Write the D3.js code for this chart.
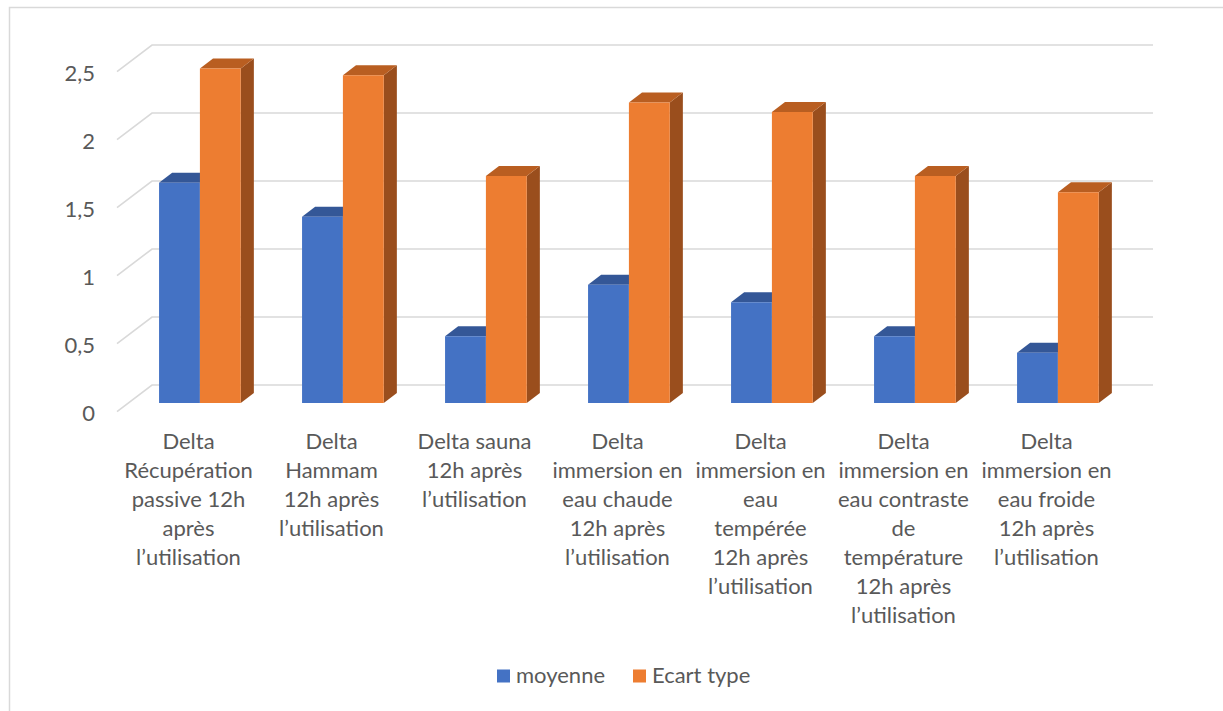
<!DOCTYPE html>
<html lang="fr">
<head>
<meta charset="utf-8">
<title>Moyenne et écart type</title>
<script src="https://cdn.jsdelivr.net/npm/d3@7"></script>
<style>
  html, body { margin: 0; padding: 0; background: #ffffff; }
  svg { display: block; font-family: Lato, "Open Sans", sans-serif; }
</style>
</head>
<body>
<svg id="chart" width="1223" height="711"></svg>
<script>
// Category labels (line breaks as in the axis)
const categories = [
  "Delta\nRécupération\npassive 12h\naprès\nl’utilisation",
  "Delta\nHammam\n12h après\nl’utilisation",
  "Delta sauna\n12h après\nl’utilisation",
  "Delta\nimmersion en\neau chaude\n12h après\nl’utilisation",
  "Delta\nimmersion en\neau\ntempérée\n12h après\nl’utilisation",
  "Delta\nimmersion en\neau contraste\nde\ntempérature\n12h après\nl’utilisation",
  "Delta\nimmersion en\neau froide\n12h après\nl’utilisation"
];
const moyenne   = [1.62, 1.37, 0.49, 0.87, 0.74, 0.49, 0.37];
const ecartType = [2.46, 2.41, 1.67, 2.21, 2.14, 1.67, 1.55];
const seriesNames = ["moyenne", "Ecart type"];
const yTickValues = [0, 0.5, 1, 1.5, 2, 2.5];

// Face colours per series: front, top, side
const palette = [
  { front: "#4472C4", top: "#345797", side: "#2F4F8A" },
  { front: "#ED7D31", top: "#B95E21", side: "#9A4E1D" }
];

const svg = d3.select("#chart");
const fr = d3.formatLocale({ decimal: ",", thousands: " ", grouping: [3], currency: ["", " €"] });
const fmt = fr.format("~g");

// Oblique 3D frame: front floor edge, depth offset to the back wall
const Y0 = 411.7, DX = 35, DY = 26.7;
const x = d3.scaleBand().domain(d3.range(categories.length)).range([117, 1118]);
const xs = d3.scaleBand().domain([0, 1]).range([0, x.bandwidth()]).paddingInner(0).paddingOuter(0.75);
const y = d3.scaleLinear().domain([0, 2.5]).range([0, 340]);
const P = (px, v, z) => [px + z * DX, Y0 - y(v) - z * DY];
const Z0 = 0.326, Z1 = 0.70;

// Chart border
svg.append("rect")
  .attr("x", 9.5).attr("y", 7.5).attr("width", 1300).attr("height", 800)
  .attr("fill", "none").attr("stroke", "#d9d9d9").attr("stroke-width", 1.5);

// Gridlines: side wall diagonal + back wall horizontal
const grid = svg.append("g").attr("stroke", "#d9d9d9").attr("stroke-width", 1.6).attr("fill", "none");
yTickValues.forEach(v => {
  const a = P(117, v, 0), b = P(117, v, 1), c = P(1118, v, 1);
  grid.append("path").attr("d", `M${a[0]},${a[1]}L${b[0]},${b[1]}L${c[0]},${c[1]}`);
});

// Y tick labels
svg.append("g").selectAll("text").data(yTickValues).join("text")
  .attr("x", 95).attr("y", d => P(117, d, 0)[1])
  .attr("dy", "0.4em").attr("text-anchor", "end")
  .attr("font-size", 22).attr("fill", "#595959")
  .text(d => fmt(d));

// Bars
const poly = pts => "M" + pts.map(p => p.join(",")).join("L") + "Z";
const bars = svg.append("g");
categories.forEach((c, i) => {
  [moyenne[i], ecartType[i]].forEach((v, s) => {
    const xl = x(i) + xs(s), xr = xl + xs.bandwidth();
    const col = palette[s];
    // right side
    bars.append("path").attr("fill", col.side)
      .attr("d", poly([P(xr, 0, Z0), P(xr, v, Z0), P(xr, v, Z1), P(xr, 0, Z1)]));
    // top
    bars.append("path").attr("fill", col.top)
      .attr("d", poly([P(xl, v, Z0), P(xr, v, Z0), P(xr, v, Z1), P(xl, v, Z1)]));
    // front
    bars.append("path").attr("fill", col.front)
      .attr("d", poly([P(xl, 0, Z0), P(xr, 0, Z0), P(xr, v, Z0), P(xl, v, Z0)]));
  });
});

// Category labels
const labels = svg.append("g").attr("font-size", 22).attr("fill", "#595959").attr("text-anchor", "middle");
categories.forEach((c, i) => {
  const cx = x(i) + x.bandwidth() / 2;
  const t = labels.append("text").attr("x", cx).attr("y", 449.3);
  c.split("\n").forEach((line, k) => {
    t.append("tspan").attr("x", cx).attr("y", 449.3 + k * 29).text(line);
  });
});

// Legend
const legend = svg.append("g").attr("font-size", 22).attr("fill", "#595959");
const legendX = [497, 633];
seriesNames.forEach((n, s) => {
  legend.append("rect").attr("x", legendX[s]).attr("y", 669.5).attr("width", 13).attr("height", 13)
    .attr("fill", palette[s].front);
  legend.append("text").attr("x", legendX[s] + 19).attr("y", 683).text(n);
});
</script>
</body>
</html>
